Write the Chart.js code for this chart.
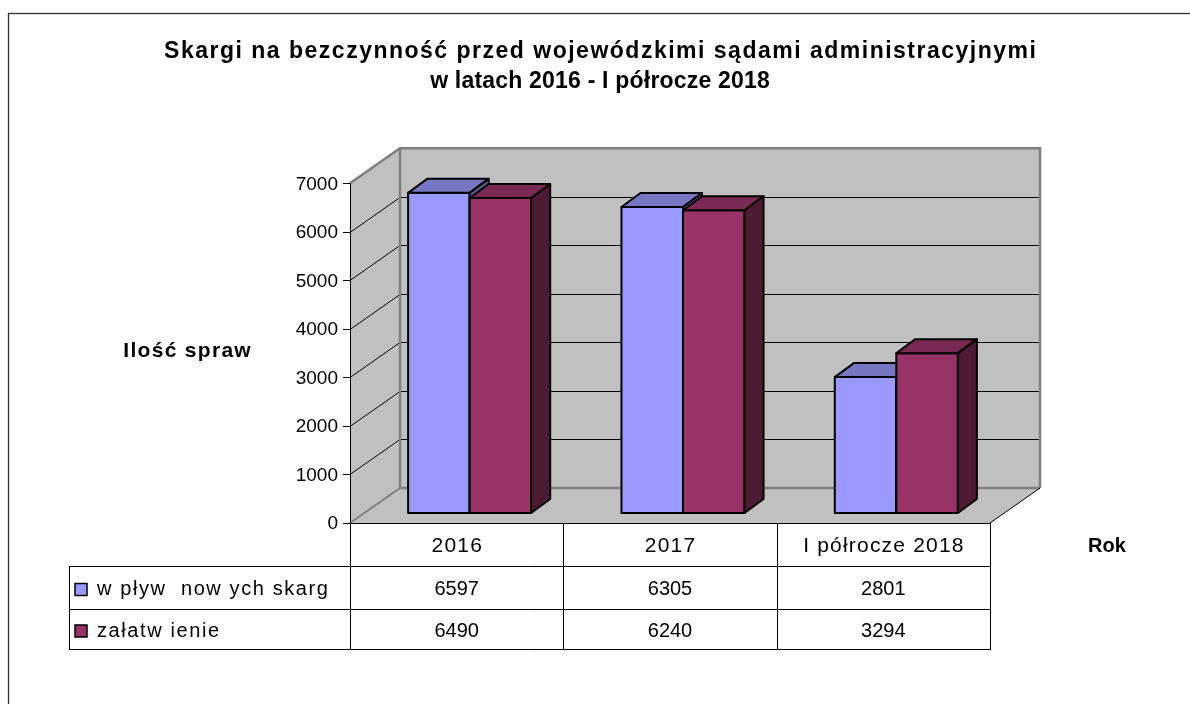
<!DOCTYPE html>
<html><head><meta charset="utf-8">
<script src="https://cdn.jsdelivr.net/npm/chart.js@4/dist/chart.umd.min.js"></script>
<style>html,body{margin:0;padding:0;background:#fff;overflow:hidden}#wrap{position:relative;width:1190px;height:704px}</style>
</head><body><div id="wrap"><canvas id="c" width="1190" height="704"></canvas></div>
<script>
const TITLE_LINES = ['Skargi na bezczynność przed wojewódzkimi sądami administracyjnymi', 'w latach 2016 - I półrocze 2018'];
const CATEGORIES = ['2016', '2017', 'I półrocze 2018'];
const SERIES_NAMES = ['w pływ  now ych skarg', 'załatw ienie'];
const WPLYW = [6597, 6305, 2801];
const ZALATWIENIE = [6490, 6240, 3294];
const Y_TICKS = [0, 1000, 2000, 3000, 4000, 5000, 6000, 7000];
const Y_TITLE = 'Ilość spraw';
const X_TITLE = 'Rok';

const FONT = '"Liberation Sans", Arial, sans-serif';
const FRONT = {dx: -13, dy: 10};   // bar plane -> front plane
const BACK = {dx: 37, dy: -25};    // bar plane -> back wall
const DEPTH = {dx: 19, dy: -14};   // bar depth
const WALL = '#c0c0c0', EDGE = '#808080';

function poly(ctx, pts, fill, stroke, lw) {
  ctx.beginPath();
  ctx.moveTo(pts[0][0], pts[0][1]);
  for (let i = 1; i < pts.length; i++) ctx.lineTo(pts[i][0], pts[i][1]);
  ctx.closePath();
  if (fill) { ctx.fillStyle = fill; ctx.fill(); }
  if (stroke) { ctx.strokeStyle = stroke; ctx.lineWidth = lw || 1; ctx.stroke(); }
}
function line(ctx, pts, color, lw) {
  ctx.beginPath();
  ctx.moveTo(pts[0][0], pts[0][1]);
  for (let i = 1; i < pts.length; i++) ctx.lineTo(pts[i][0], pts[i][1]);
  ctx.strokeStyle = color; ctx.lineWidth = lw || 1; ctx.stroke();
}
// text with letter spacing, aligned manually
function txt(ctx, s, x, y, align, ls) {
  ctx.letterSpacing = '0px';
  const w = ctx.measureText(s).width + ls * (s.length - 1);
  const lx = align === 'center' ? x - w / 2 : align === 'right' ? x - w : x;
  ctx.textAlign = 'left';
  ctx.letterSpacing = ls + 'px';
  ctx.fillText(s, lx, y);
  ctx.letterSpacing = '0px';
}

const scene3d = {
  id: 'scene3d',
  beforeDatasetsDraw(chart) {
    const ctx = chart.ctx, ca = chart.chartArea, ys = chart.scales.y;
    const max = Y_TICKS[Y_TICKS.length - 1];
    const fL = ca.left + FRONT.dx, fR = ca.right + FRONT.dx;
    const bL = ca.left + BACK.dx, bR = ca.right + BACK.dx;
    const fy = v => ys.getPixelForValue(v) + FRONT.dy;
    const by = v => ys.getPixelForValue(v) + BACK.dy;
    ctx.save();
    ctx.lineJoin = 'miter';
    // outer frame
    ctx.strokeStyle = '#303030'; ctx.lineWidth = 1.3;
    ctx.strokeRect(8.5, 13.5, 1400, 900);
    // title
    ctx.fillStyle = '#000'; ctx.textBaseline = 'middle';
    ctx.font = 'bold 23px ' + FONT;
    txt(ctx, TITLE_LINES[0], 600, 52, 'center', 1.5);
    txt(ctx, TITLE_LINES[1], 600, 82, 'center', 0.2);
    // walls
    poly(ctx, [[bL, by(max)], [bR, by(max)], [bR, by(0)], [bL, by(0)]], WALL);
    poly(ctx, [[fL, fy(max)], [bL, by(max)], [bL, by(0)], [fL, fy(0)]], WALL);
    poly(ctx, [[fL, fy(0)], [bL, by(0)], [bR, by(0)], [fR, fy(0)]], WALL);
    // gridlines
    Y_TICKS.forEach(v => {
      if (v === 0 || v === max) return;
      line(ctx, [[fL, Math.round(fy(v)) + 0.5], [bL, Math.round(by(v)) + 0.5], [bR, Math.round(by(v)) + 0.5]], '#000', 1);
    });
    // wall edges
    line(ctx, [[fL, fy(max)], [bL, by(max)], [bR, by(max)], [bR, by(0)]], EDGE, 2.5);
    line(ctx, [[bL, by(max)], [bL, by(0)], [bR, by(0)]], EDGE, 2.5);
    line(ctx, [[fL, fy(0)], [bL, by(0)]], EDGE, 2);
    line(ctx, [[fR, fy(0)], [bR, by(0)]], '#000', 1);
    // front axis
    line(ctx, [[fL + 0.5, fy(max)], [fL + 0.5, fy(0)]], '#000', 1);
    ctx.font = '19px ' + FONT; ctx.textBaseline = 'middle';
    Y_TICKS.forEach(v => {
      const y = Math.round(fy(v)) + 0.5;
      line(ctx, [[fL - 7, y], [fL, y]], '#000', 1);
      ctx.fillStyle = '#000';
      txt(ctx, String(v), fL - 12, fy(v) + 1, 'right', 0);
    });
    // axis titles
    ctx.font = 'bold 21px ' + FONT;
    txt(ctx, Y_TITLE, 187, 351, 'center', 1.3);
    ctx.font = 'bold 20px ' + FONT;
    txt(ctx, X_TITLE, 1107, 546, 'center', 0);
    ctx.restore();
  },
  afterDatasetsDraw(chart) {
    const ctx = chart.ctx, sets = chart.data.datasets;
    ctx.save();
    ctx.lineJoin = 'round';
    CATEGORIES.forEach((c, i) => {
      sets.forEach((ds, k) => {
        const el = chart.getDatasetMeta(k).data[i];
        const p = el.getProps(['x', 'y', 'base', 'width'], true);
        const l = p.x - p.width / 2, r = p.x + p.width / 2, t = p.y, b = p.base;
        poly(ctx, [[l, t], [r, t], [r, b], [l, b]], ds.backgroundColor, '#000', 2);
        poly(ctx, [[l, t], [r, t], [r + DEPTH.dx, t + DEPTH.dy], [l + DEPTH.dx, t + DEPTH.dy]], ds.topColor, '#000', 2);
        poly(ctx, [[r, t], [r + DEPTH.dx, t + DEPTH.dy], [r + DEPTH.dx, b + DEPTH.dy], [r, b]], ds.sideColor, '#000', 2);
      });
    });
    ctx.restore();
  },
  afterDraw(chart) {
    const ctx = chart.ctx, ca = chart.chartArea, ys = chart.scales.y, xs = chart.scales.x;
    const fL = ca.left + FRONT.dx, fR = ca.right + FRONT.dx;
    const top = ys.getPixelForValue(0) + FRONT.dy;
    const rows = [top, 566, 609, 649];
    const tL = 69.5;
    const catW = (ca.right - ca.left) / CATEGORIES.length;
    ctx.save();
    // table lines
    line(ctx, [[fL, Math.round(top) + 0.5], [fR, Math.round(top) + 0.5]], '#000', 1);
    [rows[1], rows[2], rows[3]].forEach(y => line(ctx, [[tL, y + 0.5], [fR, y + 0.5]], '#000', 1));
    line(ctx, [[tL, rows[1]], [tL, rows[3] + 1]], '#000', 1);
    for (let i = 0; i <= CATEGORIES.length; i++) {
      const x = Math.round(ca.left + i * catW + FRONT.dx) + 0.5;
      line(ctx, [[x, top], [x, rows[3] + 1]], '#000', 1);
    }
    ctx.fillStyle = '#000'; ctx.textBaseline = 'middle';
    ctx.font = '21px ' + FONT;
    CATEGORIES.forEach((c, i) => {
      const x = xs.getPixelForValue(i) + FRONT.dx;
      txt(ctx, c, x, (rows[0] + rows[1]) / 2 + 2, 'center', 1.2);
    });
    const sets = chart.data.datasets;
    sets.forEach((ds, k) => {
      const yc = (rows[k + 1] + rows[k + 2]) / 2 + 2;
      ctx.font = '20px ' + FONT;
      ds.data.forEach((v, i) => {
        const x = xs.getPixelForValue(i) + FRONT.dx;
        txt(ctx, String(v), x, yc, 'center', 0);
      });
      ctx.fillStyle = ds.backgroundColor;
      ctx.fillRect(75, yc - 6, 12, 12);
      ctx.strokeStyle = '#000'; ctx.lineWidth = 1.5;
      ctx.strokeRect(75, yc - 6, 12, 12);
      ctx.fillStyle = '#000';
      txt(ctx, ds.label, 97, yc, 'left', 1.6);
    });
    ctx.restore();
  }
};

new Chart(document.getElementById('c'), {
  type: 'bar',
  data: {
    labels: CATEGORIES,
    datasets: [
      {label: SERIES_NAMES[0], data: WPLYW, backgroundColor: '#9999ff', topColor: '#7676c2', sideColor: '#5c5c99', borderWidth: 0},
      {label: SERIES_NAMES[1], data: ZALATWIENIE, backgroundColor: '#993366', topColor: '#7a2952', sideColor: '#4d1a33', borderWidth: 0}
    ]
  },
  options: {
    responsive: false, animation: false, devicePixelRatio: 1,
    layout: {padding: {left: 363, right: 187, top: 173.3, bottom: 191}},
    plugins: {legend: {display: false}, title: {display: false}, tooltip: {enabled: false}},
    datasets: {bar: {categoryPercentage: 0.577, barPercentage: 1}},
    scales: {
      x: {display: false, offset: true},
      y: {display: false, min: 0, max: Y_TICKS[Y_TICKS.length - 1]}
    }
  },
  plugins: [scene3d]
});
</script>
</body></html>
